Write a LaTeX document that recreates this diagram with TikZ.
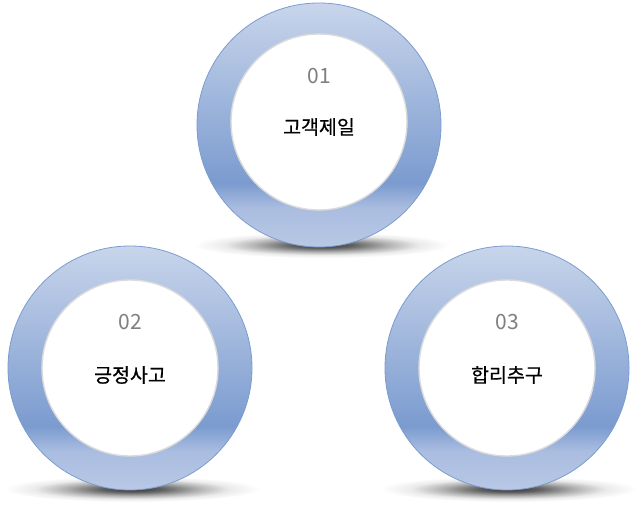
\documentclass[tikz,border=0pt]{standalone}
\usepackage{fontspec}
\setmainfont{Noto Sans CJK KR}
\newfontfamily\labfont[FakeBold=0.6]{Noto Sans CJK KR}
\definecolor{ringtop}{HTML}{C8D5EB}
\definecolor{ringdark}{HTML}{7B9BCF}
\definecolor{ringlow}{HTML}{AABDE0}
\definecolor{ringbot}{HTML}{B8C8E5}
\definecolor{ringline}{HTML}{7A9CD0}
\definecolor{numgray}{HTML}{7F7F7F}
\pgfdeclareverticalshading{ringshade}{100bp}{color(0bp)=(ringbot); color(25bp)=(ringbot); color(33bp)=(ringlow); color(38bp)=(ringdark); color(75bp)=(ringtop); color(100bp)=(ringtop)}
\pgfdeclareradialshading{shadowshade}{\pgfpointorigin}{color(0bp)=(black!80); color(6bp)=(black!62); color(13bp)=(black!30); color(19bp)=(black!8); color(25bp)=(white); color(50bp)=(white)}
\tikzset{
  ring/.style={circle, minimum size=244pt, inner sep=0pt, shading=ringshade, draw=ringline, line width=0.8pt},
  hole/.style={circle, minimum size=176pt, inner sep=0pt, fill=white, draw=black!14, line width=1.4pt},
  shadowel/.style={shading=shadowshade},
  numtext/.style={font=\fontsize{21}{22}\selectfont, text=numgray},
  labtext/.style={font=\labfont\fontsize{19.5}{21}\selectfont, text=black}
}
\begin{document}
\begin{tikzpicture}[x=1pt,y=-1pt]
\useasboundingbox (0,0) rectangle (642,510);
% shadows
\shade[shadowel] (322,245) ellipse [x radius=128, y radius=13];
\shade[shadowel] (132,489) ellipse [x radius=128, y radius=13];
\shade[shadowel] (509,489) ellipse [x radius=128, y radius=13];
% circles
\node[ring] (r1) at (319,125) {};
\node[hole] (h1) at (319,122) {};
\node[ring] (r2) at (130,368) {};
\node[hole] (h2) at (130,368) {};
\node[ring] (r3) at (507,368) {};
\node[hole] (h3) at (507,368) {};
% texts
\node[numtext] (n1) at (319,76) {01};
\node[labtext] (l1) at (319,127) {고객제일};
\node[numtext] (n2) at (130,322) {02};
\node[labtext] (l2) at (130,375) {긍정사고};
\node[numtext] (n3) at (507,322) {03};
\node[labtext] (l3) at (507,375) {합리추구};
\end{tikzpicture}
\end{document}
